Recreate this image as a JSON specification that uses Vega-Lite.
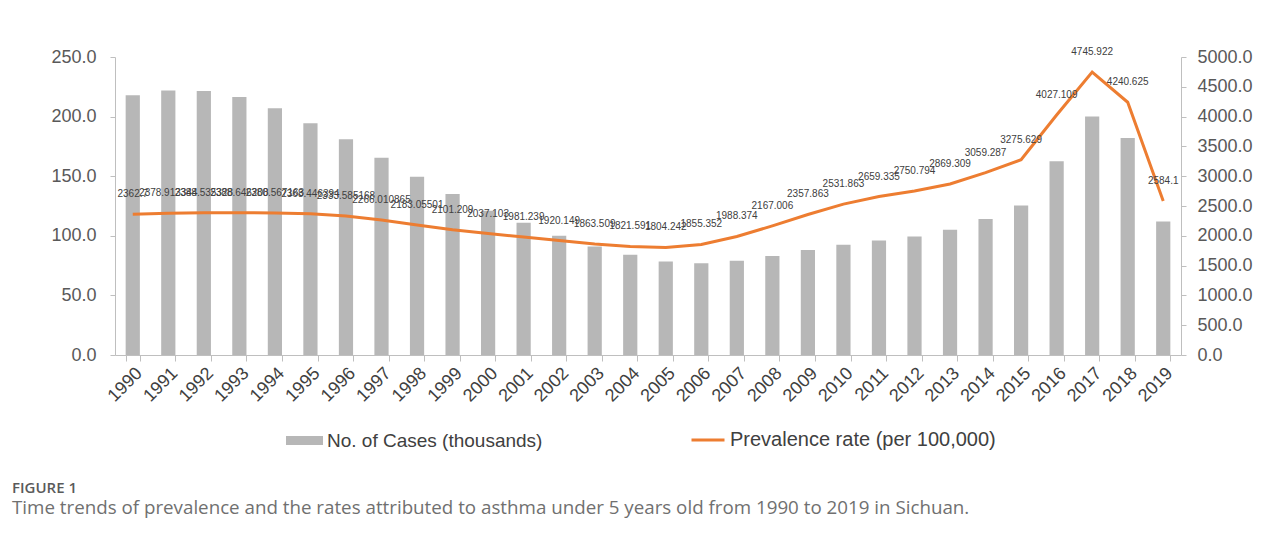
{
  "$schema": "https://vega.github.io/schema/vega-lite/v6.json",
  "width": 1066,
  "height": 298,
  "autosize": "none",
  "padding": {"left": 115, "top": 57, "right": 100, "bottom": 183},
  "background": "white",
  "config": {
    "view": {"stroke": null},
    "font": "Liberation Sans",
    "axis": {"grid": false, "domainColor": "#bfbfbf", "tickColor": "#bfbfbf", "labelColor": "#595959", "labelFont": "Liberation Sans", "labelFontSize": 18, "title": null}
  },
  "title": {
    "text": "FIGURE 1",
    "subtitle": "Time trends of prevalence and the rates attributed to asthma under 5 years old from 1990 to 2019 in Sichuan.",
    "orient": "bottom",
    "anchor": "start",
    "frame": "group",
    "dx": -103,
    "offset": 30,
    "font": "Open Sans",
    "fontSize": 15,
    "fontWeight": 600,
    "color": "#5a5a5a",
    "subtitleFont": "Open Sans",
    "subtitleFontSize": 18.75,
    "subtitleColor": "#707070",
    "subtitlePadding": 3
  },
  "data": {
    "values": [
      {"year": "1990", "cases": 218, "rate": 2362.7, "label": "2362.7"},
      {"year": "1991", "cases": 222, "rate": 2378.913, "label": "2378.913344"},
      {"year": "1992", "cases": 221.5, "rate": 2388.535, "label": "2388.535328"},
      {"year": "1993", "cases": 216.5, "rate": 2388.646, "label": "2388.646208"},
      {"year": "1994", "cases": 207, "rate": 2380.567, "label": "2380.567163"},
      {"year": "1995", "cases": 194.5, "rate": 2368.446, "label": "2368.446394"},
      {"year": "1996", "cases": 181, "rate": 2333.585, "label": "2333.585168"},
      {"year": "1997", "cases": 165.5, "rate": 2266.011, "label": "2266.010865"},
      {"year": "1998", "cases": 149.5, "rate": 2183.055, "label": "2183.05501"},
      {"year": "1999", "cases": 135, "rate": 2101.209, "label": "2101.209"},
      {"year": "2000", "cases": 121, "rate": 2037.103, "label": "2037.103"},
      {"year": "2001", "cases": 111, "rate": 1981.239, "label": "1981.239"},
      {"year": "2002", "cases": 100, "rate": 1920.149, "label": "1920.149"},
      {"year": "2003", "cases": 91, "rate": 1863.509, "label": "1863.509"},
      {"year": "2004", "cases": 84, "rate": 1821.591, "label": "1821.591"},
      {"year": "2005", "cases": 78.5, "rate": 1804.242, "label": "1804.242"},
      {"year": "2006", "cases": 77, "rate": 1855.352, "label": "1855.352"},
      {"year": "2007", "cases": 79, "rate": 1988.374, "label": "1988.374"},
      {"year": "2008", "cases": 83, "rate": 2167.006, "label": "2167.006"},
      {"year": "2009", "cases": 88, "rate": 2357.863, "label": "2357.863"},
      {"year": "2010", "cases": 92.5, "rate": 2531.863, "label": "2531.863"},
      {"year": "2011", "cases": 96, "rate": 2659.335, "label": "2659.335"},
      {"year": "2012", "cases": 99.5, "rate": 2750.794, "label": "2750.794"},
      {"year": "2013", "cases": 105, "rate": 2869.309, "label": "2869.309"},
      {"year": "2014", "cases": 114, "rate": 3059.287, "label": "3059.287"},
      {"year": "2015", "cases": 125.5, "rate": 3275.629, "label": "3275.629"},
      {"year": "2016", "cases": 162.5, "rate": 4027.109, "label": "4027.109"},
      {"year": "2017", "cases": 200, "rate": 4745.922, "label": "4745.922"},
      {"year": "2018", "cases": 182, "rate": 4240.625, "label": "4240.625"},
      {"year": "2019", "cases": 112, "rate": 2584.1, "label": "2584.1"}
    ]
  },
  "encoding": {
    "x": {
      "field": "year",
      "type": "ordinal",
      "scale": {"paddingInner": 0.6, "paddingOuter": 0.3},
      "axis": {"labelAngle": -45, "labelAlign": "right", "labelBaseline": "top", "labelPadding": 3, "tickBand": "extent", "tickSize": 6, "labelFontSize": 18, "labelColor": "#404040"}
    }
  },
  "layer": [
    {
      "mark": {"type": "bar", "color": "#b7b7b7"},
      "encoding": {
        "y": {"field": "cases", "type": "quantitative", "scale": {"domain": [0, 250]}, "axis": {"values": [0, 50, 100, 150, 200, 250], "format": ".1f", "tickSize": 5, "labelPadding": 14, "orient": "left"}},
        "fill": {"datum": "No. of Cases (thousands)", "type": "nominal", "scale": {"range": ["#b7b7b7"]}, "legend": {"orient": "none", "legendX": 171, "legendY": 365, "title": null, "padding": 0, "symbolType": "M-1,-0.24H1V0.24H-1Z", "symbolSize": 1369, "symbolStrokeWidth": 0, "labelFontSize": 19, "labelLimit": 0, "labelColor": "#404040", "labelOffset": 4}}
      }
    },
    {
      "encoding": {
        "y": {"field": "rate", "type": "quantitative", "scale": {"domain": [0, 5000]}, "axis": {"values": [0, 500, 1000, 1500, 2000, 2500, 3000, 3500, 4000, 4500, 5000], "format": ".1f", "tickSize": 5, "labelPadding": 11, "orient": "right"}}
      },
      "layer": [
        {
          "mark": {"type": "line", "strokeWidth": 3},
          "encoding": {
            "stroke": {"datum": "Prevalence rate (per 100,000)", "type": "nominal", "scale": {"range": ["#ed7d31"]}, "legend": {"orient": "none", "legendX": 575, "legendY": 365, "title": null, "padding": 0, "symbolType": "stroke", "symbolSize": 1089, "symbolStrokeWidth": 3, "labelFontSize": 20, "labelLimit": 0, "labelColor": "#404040", "labelOffset": 4}}
          }
        },
        {
          "mark": {"type": "text", "dy": -20, "fontSize": 10, "color": "#404040", "baseline": "middle", "align": "center"},
          "encoding": {"text": {"field": "label"}}
        }
      ]
    }
  ],
  "resolve": {"scale": {"y": "independent"}}
}
